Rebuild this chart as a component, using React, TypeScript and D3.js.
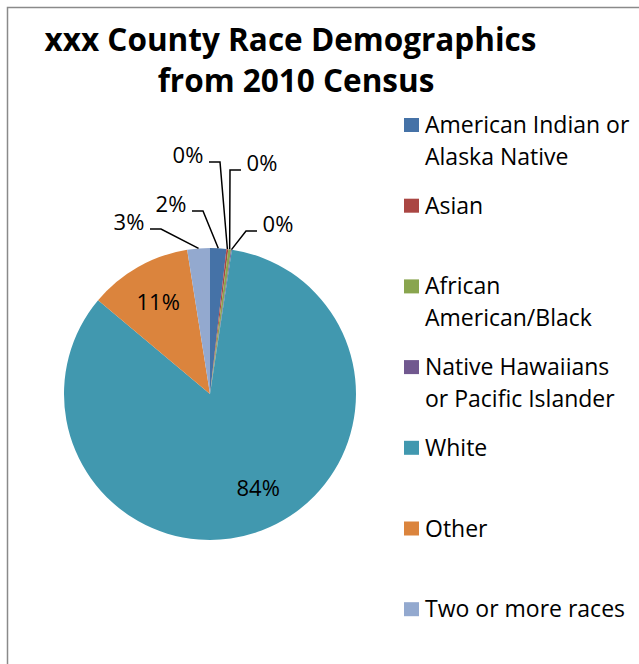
import React from "react";
import * as d3 from "d3";

const categories = [
  "American Indian or Alaska Native",
  "Asian",
  "African American/Black",
  "Native Hawaiians or Pacific Islander",
  "White",
  "Other",
  "Two or more races",
];
const legendLines = [
  ["American Indian or", "Alaska Native"],
  ["Asian"],
  ["African", "American/Black"],
  ["Native Hawaiians", "or Pacific Islander"],
  ["White"],
  ["Other"],
  ["Two or more races"],
];
const values = [1.8, 0.2, 0.3, 0.1, 83.7, 11.4, 2.5];
const colors = ["#4572A7", "#AA4643", "#89A54E", "#71588F", "#4198AF", "#DB843D", "#93A9CF"];

// label layout: outside labels with leader lines (side: -1 line goes left from text, +1 right)
const outsideLabels: Record<number, { x: number; y: number; side: number }> = {
  0: { x: 171, y: 204, side: 1 },
  1: { x: 188, y: 155, side: 1 },
  2: { x: 262, y: 163, side: -1 },
  3: { x: 278, y: 224, side: -1 },
  6: { x: 129, y: 222, side: 1 },
};
const insideNudge: Record<number, [number, number]> = { 4: [11, -4], 5: [0, 0] };

const W = 639, H = 664;
const cx = 210, cy = 394, R = 146;
const FONT = "'Open Sans', Lato, sans-serif";

export default function App() {
  const pie = d3.pie<number>().sort(null).value((d) => d)(values);
  const arc = d3.arc<d3.PieArcDatum<number>>().innerRadius(0).outerRadius(R);
  const pct = (v: number) => `${Math.round(v)}%`;
  const legendY0 = 125, legendStep = 80.7, lineH = 32;

  return (
    <svg width={W} height={H} style={{ position: "absolute", left: 0, top: 0, background: "#fff" }}>
      <rect x={7.5} y={7.5} width={W + 20} height={H + 20} fill="#fff" stroke="#8a8a8a" strokeWidth={1.5} />
      <text x={290.5} y={51} textAnchor="middle" fontFamily={FONT} fontWeight="bold" fontSize={31.5} fill="#000">
        xxx County Race Demographics
      </text>
      <text x={296} y={92} textAnchor="middle" fontFamily={FONT} fontWeight="bold" fontSize={31.5} fill="#000">
        from 2010 Census
      </text>
      <g transform={`translate(${cx},${cy})`}>
        {pie.map((p, i) => (
          <path key={categories[i]} d={arc(p) || ""} fill={colors[i]} />
        ))}
      </g>
      {pie.map((p, i) => {
        const mid = (p.startAngle + p.endAngle) / 2;
        const ol = outsideLabels[i];
        if (ol) {
          const ax = cx + R * Math.sin(mid);
          const ay = cy - R * Math.cos(mid);
          const sx = ol.x + ol.side * 21;
          const sy = ol.y + 7;
          const ex = sx + ol.side * 11;
          return (
            <g key={"l" + i}>
              <polyline points={`${sx},${sy} ${ex},${sy} ${ax},${ay}`} fill="none" stroke="#000" strokeWidth={1.5} />
              <text x={ol.x} y={ol.y} dy="0.35em" textAnchor="middle" fontFamily={FONT} fontSize={22} fill="#000">
                {pct(values[i])}
              </text>
            </g>
          );
        }
        const n = insideNudge[i] || [0, 0];
        const rr = R * 0.72;
        const x = cx + rr * Math.sin(mid) + n[0];
        const y = cy - rr * Math.cos(mid) + n[1];
        return (
          <text key={"l" + i} x={x} y={y} dy="0.35em" textAnchor="middle" fontFamily={FONT} fontSize={22} fill="#000">
            {pct(values[i])}
          </text>
        );
      })}
      {legendLines.map((lines, i) => {
        const y = legendY0 + i * legendStep;
        return (
          <g key={"lg" + i}>
            <rect x={404} y={y - 7} width={15} height={14} fill={colors[i]} />
            {lines.map((t, j) => (
              <text key={j} x={425} y={y + j * lineH} dy="0.35em" fontFamily={FONT} fontSize={23} fill="#000">
                {t}
              </text>
            ))}
          </g>
        );
      })}
    </svg>
  );
}
